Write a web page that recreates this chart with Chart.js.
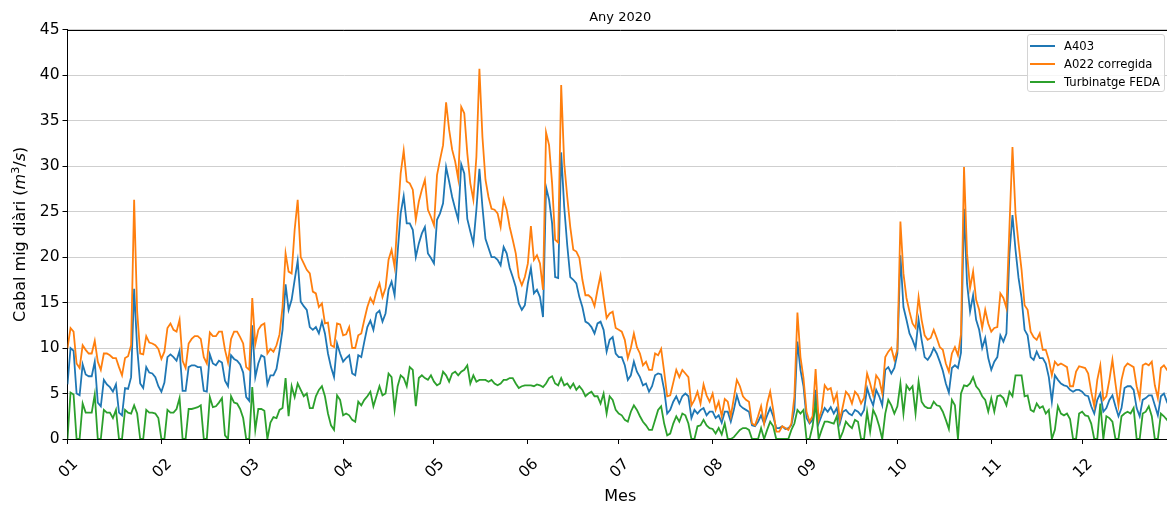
<!DOCTYPE html>
<html lang="ca">
<head>
<meta charset="utf-8">
<title>Any 2020</title>
<script src="https://cdn.jsdelivr.net/npm/chart.js@4.4.1/dist/chart.umd.min.js"></script>
<style>
  html, body { margin: 0; padding: 0; background: #fff; overflow: hidden; }
  #wrap { position: relative; width: 1180px; height: 506px; }
  #legend {
    position: absolute; left: 1027px; top: 34px; width: 138px; height: 58px;
    box-sizing: border-box; border: 1px solid #d4d4d4; border-radius: 3px;
    background: rgba(255,255,255,0.8);
    font-family: "DejaVu Sans", sans-serif; font-size: 11.6px; color: #000;
  }
  #legend .row { position: absolute; left: 0; height: 18px; display: flex; align-items: center; white-space: nowrap; }
  #legend .swatch { display: inline-block; width: 25px; height: 2px; margin-left: 2px; margin-right: 9px; }
</style>
</head>
<body>
<div id="wrap">
  <canvas id="chart" width="1180" height="506"></canvas>
  <div id="legend"></div>
</div>
<script>
// Daily mean flow, year 2020 (one value per day, 1 Jan .. 31 Dec)
const year = 2020;
const monthLabels = ['01','02','03','04','05','06','07','08','09','10','11','12'];
const seriesNames = ['A403', 'A022 corregida', 'Turbinatge FEDA'];
const seriesColors = ['#1f77b4', '#ff7f0e', '#2ca02c'];

const a403 = [
  // Jan
  6.0,10.0,9.7,5.0,4.8,8.2,7.1,6.9,6.9,8.5, 4.0,3.6,6.5,6.0,5.7,5.2,6.0,2.9,2.6,5.6, 5.5,6.8,16.5,10.0,6.1,5.6,7.9,7.3,7.2,6.8, 5.8,
  // Feb
  5.2,6.2,9.0,9.3,9.0,8.6,9.7,5.3,5.3,7.9, 8.1,8.1,7.9,7.9,5.3,5.2,9.3,8.3,8.1,8.6, 8.4,6.4,5.8,9.2,8.8,8.6,8.2,7.3,4.6,
  // Mar
  4.2,12.5,6.8,8.3,9.2,9.0,6.0,7.0,7.0,7.7, 9.7,12.0,17.0,14.2,15.3,17.5,19.6,15.1,14.6,14.2, 12.3,12.0,12.3,11.6,12.9,11.6,9.4,7.9,6.8,10.5, 9.4,
  // Apr
  8.5,8.9,9.2,7.2,7.0,9.2,9.0,10.7,12.3,13.0, 12.0,13.8,14.1,12.9,13.8,16.4,17.3,15.8,20.5,24.8, 26.7,23.7,23.7,23.0,20.0,21.5,22.6,23.3,20.4,19.9,
  // May
  19.3,24.1,24.8,25.9,29.9,28.3,26.6,25.3,24.1,30.2, 29.2,24.2,22.8,21.5,25.2,29.7,25.5,22.0,21.0,20.0, 20.0,19.7,19.1,21.1,20.4,18.8,17.8,16.7,14.9,14.2, 14.7,
  // Jun
  17.1,18.8,16.0,16.4,15.6,13.4,27.7,26.3,23.7,17.8, 17.7,31.5,25.5,21.3,17.8,17.5,17.1,15.6,14.5,12.9, 12.7,12.3,11.6,12.7,12.9,12.0,9.6,10.9,11.2,9.4,
  // Jul
  9.0,9.0,8.1,6.5,7.0,8.5,7.4,6.8,5.9,6.1, 5.2,5.8,7.0,7.2,7.1,5.4,2.8,3.2,4.1,4.7, 3.9,4.7,5.0,4.7,2.3,3.2,2.8,3.2,3.4,2.6, 3.0,
  // Aug
  3.0,2.3,2.6,1.8,3.0,3.0,1.9,3.2,4.8,3.7, 3.4,3.2,3.0,1.5,1.4,1.9,2.6,1.7,2.6,3.4, 2.5,1.2,1.2,1.4,1.1,1.2,1.5,3.2,10.7,7.6, 5.8,
  // Sep
  2.3,1.7,2.1,5.4,1.7,2.6,3.4,3.0,3.5,2.8, 3.4,1.7,3.0,3.2,2.8,2.6,3.2,3.0,2.6,3.2, 5.6,4.5,3.7,5.4,4.7,3.7,7.6,7.9,7.2,7.8,
  // Oct
  9.4,20.2,14.5,13.1,11.6,10.9,10.0,13.1,10.9,9.0, 8.7,9.2,10.0,9.4,8.5,7.5,6.1,5.1,7.8,8.1, 7.8,9.5,25.3,17.1,14.0,15.8,13.1,12.0,10.0,11.1, 8.9,
  // Nov
  7.6,8.5,9.0,11.4,10.7,11.6,20.4,24.6,20.8,17.7, 15.5,12.0,11.4,9.0,8.7,9.6,8.9,8.9,8.3,6.8, 4.1,7.0,6.5,6.1,5.9,5.8,5.4,5.2,5.4,5.4,
  // Dec
  5.2,4.8,4.7,3.6,2.8,4.3,5.0,3.0,3.4,4.3, 4.8,3.6,2.5,3.4,5.6,5.8,5.8,5.4,3.4,2.5, 4.3,4.5,4.8,4.8,3.7,2.6,4.7,5.0,4.1,4.6, 4.2
];

const a022 = [
  // Jan
  10.0,12.2,11.8,8.3,7.8,10.3,9.8,9.4,9.4,10.8, 8.5,7.6,9.4,9.4,9.2,8.9,8.9,7.9,7.0,8.9, 9.1,10.3,26.3,14.0,9.4,9.3,11.3,10.6,10.5,10.3, 9.9,
  // Feb
  8.8,9.6,12.2,12.7,12.0,11.8,13.1,8.6,7.8,10.5, 11.0,11.3,11.3,11.0,9.0,8.3,11.7,11.3,11.3,11.8, 11.8,9.8,8.4,11.0,11.8,11.8,11.2,10.5,7.9,
  // Mar
  7.6,15.5,10.4,12.0,12.5,12.7,9.4,9.9,9.6,10.3, 11.5,14.5,20.4,18.4,18.2,23.0,26.3,20.0,19.3,18.6, 18.2,16.2,16.0,14.5,14.9,12.7,12.8,10.3,10.1,12.7, 12.6,
  // Apr
  11.4,11.5,12.3,10.0,10.0,11.4,11.6,13.1,14.5,15.5, 14.9,16.2,17.1,15.6,16.6,19.7,20.8,18.9,24.4,29.2, 31.7,28.3,28.1,27.4,24.1,26.1,27.4,28.5,25.2,24.4,
  // May
  23.5,29.0,30.7,32.3,37.0,34.0,31.8,30.5,28.6,36.5, 35.8,31.4,28.1,26.3,31.0,40.7,33.2,28.5,26.6,25.3, 25.2,24.8,23.3,26.3,25.2,23.3,21.9,20.4,17.8,16.9, 17.8,
  // Jun
  19.3,23.4,19.7,20.2,19.3,16.4,33.7,32.3,28.1,21.9, 21.6,38.9,30.3,26.6,23.3,20.8,20.6,19.9,17.5,15.8, 15.8,15.5,14.6,16.4,18.0,15.6,13.3,13.8,14.0,12.2,
  // Jul
  12.0,11.8,10.9,8.9,10.0,11.6,10.1,9.4,8.1,8.5, 7.6,7.6,9.4,9.2,9.9,7.4,4.7,4.8,6.2,7.6, 6.8,7.6,7.2,6.8,3.7,4.3,5.2,3.9,6.0,4.8, 4.1,
  // Aug
  5.0,3.2,4.1,2.5,4.4,4.1,2.5,4.5,6.5,5.8, 4.7,4.3,4.1,1.7,1.5,2.5,3.6,1.7,3.9,5.2, 3.2,0.8,0.8,1.4,1.2,1.0,1.7,4.7,13.9,9.0, 6.7,
  // Sep
  3.0,1.9,2.5,7.7,2.1,3.2,5.9,5.4,5.6,4.1, 5.0,2.1,3.6,5.2,4.8,3.9,5.2,4.8,3.9,4.5, 7.2,6.1,4.8,7.0,6.5,5.0,9.0,9.6,10.0,8.7,
  // Oct
  9.8,23.9,18.2,15.5,14.0,12.7,12.2,15.6,13.1,11.4, 10.9,11.1,12.0,11.1,10.1,9.8,8.3,7.4,9.4,10.1, 9.2,11.5,29.9,20.4,16.6,18.4,15.3,14.2,12.2,14.2, 12.7,
  // Nov
  11.8,12.2,12.3,16.0,15.5,14.4,23.3,32.1,24.8,21.5, 18.6,14.7,14.2,11.8,11.2,10.9,11.6,9.8,9.8,8.7, 7.0,8.5,8.1,8.3,8.1,7.9,5.8,5.8,7.4,8.0,
  // Dec
  7.9,7.8,7.2,5.2,3.6,6.5,8.1,4.3,4.7,6.5, 8.7,6.1,3.7,6.5,7.9,8.3,8.1,7.9,5.8,4.5, 8.1,8.3,8.1,8.5,5.9,4.5,7.8,8.1,7.6,7.8, 7.5
];

const feda = [
  // Jan
  0,5.1,4.9,0,0,3.9,2.9,2.9,2.9,4.9, 0,0,3.2,2.9,2.9,2.3,3.2,0,0,3.2, 2.9,2.8,3.7,2.8,0,0,3.2,2.9,2.9,2.8, 2.3,
  // Feb
  0,0,3.2,2.9,2.9,3.3,4.5,0,0,3.3, 3.3,3.4,3.5,3.7,0,0,4.6,3.5,3.6,4.0, 4.5,0.4,0,4.7,4.0,3.9,3.3,2.3,0,
  // Mar
  0,5.7,1.0,3.3,3.3,3.1,0,1.8,2.4,2.3, 3.2,3.4,6.7,2.5,5.8,4.6,6.1,5.4,4.7,5.0, 3.4,3.4,4.7,5.4,5.8,4.7,2.8,1.5,1.0,4.8, 4.3,
  // Apr
  2.6,2.8,2.6,2.1,1.9,4.1,3.7,4.3,4.7,5.2, 3.6,4.7,5.8,4.8,5.0,7.2,6.8,3.2,5.8,7.0, 6.7,5.8,7.9,7.6,3.6,6.7,7.0,6.7,6.5,7.0,
  // May
  6.3,5.9,6.1,7.4,7.0,6.3,7.2,7.4,7.0,7.4, 7.6,8.1,6.1,7.0,6.3,6.5,6.5,6.5,6.3,6.5, 6.1,5.9,6.1,6.5,6.5,6.7,6.7,6.1,5.6,5.8, 5.9,
  // Jun
  5.9,5.9,5.8,6.0,5.9,5.7,6.1,6.7,6.9,6.1, 5.9,6.7,5.9,6.1,5.6,6.1,5.4,5.8,5.4,4.7, 5.0,5.2,4.7,4.7,3.9,5.0,2.8,4.7,4.3,3.2,
  // Jul
  2.8,2.6,2.1,1.9,3.0,3.7,3.2,2.5,1.9,1.5, 1.0,1.0,2.1,3.2,3.6,1.7,0.4,0.6,1.7,2.5, 1.9,2.8,2.6,1.7,0,0,1.4,1.5,2.1,1.5, 1.2,
  // Aug
  1.1,0.6,1.2,0.5,1.7,0,0,0.2,0.6,1.0, 1.2,1.2,1.0,0,0,0,1.2,0,1.0,1.9, 1.4,0,0,0,0,0,1.0,1.7,3.2,2.8, 3.2,
  // Sep
  0,0,1.4,3.9,0,1.0,1.9,1.9,1.8,1.7, 2.5,0,0.8,1.9,1.5,1.2,2.1,1.9,0,0, 3.0,0.8,3.2,2.5,1.4,0,2.8,4.3,3.7,2.8,
  // Oct
  3.6,6.1,2.8,5.9,5.4,5.8,2.8,6.3,4.1,3.6, 3.4,3.4,4.1,3.7,3.6,3.0,2.1,1.1,4.3,3.7, 0,5.0,5.9,5.8,6.1,6.8,5.8,5.4,4.7,4.3, 3.0,
  // Nov
  4.5,3.0,4.7,4.8,4.5,3.7,5.2,4.7,7.0,7.0, 7.0,4.7,4.8,3.2,3.0,3.9,3.4,3.6,2.8,3.2, 0,1.0,3.6,2.8,2.6,2.8,2.2,0,0,2.8,
  // Dec
  3.0,2.6,2.5,1.7,0,0,3.9,0,2.5,2.3, 1.9,0,0,2.5,2.8,3.0,2.8,3.4,0,0, 2.8,3.0,3.6,2.5,0,0,2.8,2.5,2.1,2.8, 2.5
];

// Y axis title, with the unit set as math (italic m and s, superscript 3)
const yTitleParts = [
  { text: 'Cabal mig diàri (', italic: false, scale: 1, rise: 0 },
  { text: 'm', italic: true, scale: 1, rise: 0 },
  { text: '3', italic: false, scale: 0.7, rise: 6.5 },
  { text: '/', italic: false, scale: 1, rise: 0 },
  { text: 's', italic: true, scale: 1, rise: 0 },
  { text: ')', italic: false, scale: 1, rise: 0 }
];

// Day-of-year index of the first day of each month, and of the last day of the year
const DAY_MS = 86400000;
const yearStart = Date.UTC(year, 0, 1);
const monthStarts = monthLabels.map((_, m) => Math.round((Date.UTC(year, m, 1) - yearStart) / DAY_MS));
const lastDay = Math.round((Date.UTC(year + 1, 0, 1) - yearStart) / DAY_MS) - 1;

const toPoints = vals => vals.map((v, i) => ({ x: i, y: v }));

const FONT = '"DejaVu Sans", sans-serif';
Chart.defaults.font.family = FONT;
Chart.defaults.color = '#000';

// Black frame line along the top of the plot area
const frameTop = {
  id: 'frameTop',
  afterDraw(chart) {
    const { ctx, chartArea: a } = chart;
    ctx.save();
    ctx.strokeStyle = '#000';
    ctx.lineWidth = 1;
    ctx.beginPath();
    const y = Math.round(a.top) + 0.5;
    ctx.moveTo(a.left, y);
    ctx.lineTo(a.right, y);
    ctx.lineTo(a.right, a.bottom);
    ctx.stroke();
    ctx.restore();
  }
};

// Rotated y axis title with mixed text styles
const yTitle = {
  id: 'yTitle',
  afterDraw(chart) {
    const { ctx, chartArea: a } = chart;
    const size = 16;
    const fontOf = p => (p.italic ? 'italic ' : '') + (size * p.scale).toFixed(1) + 'px ' + FONT;
    ctx.save();
    ctx.fillStyle = '#000';
    ctx.textBaseline = 'alphabetic';
    ctx.textAlign = 'left';
    let total = 0;
    const widths = yTitleParts.map(p => { ctx.font = fontOf(p); const w = ctx.measureText(p.text).width; total += w; return w; });
    ctx.translate(19.5, (a.top + a.bottom) / 2);
    ctx.rotate(-Math.PI / 2);
    let x = -total / 2;
    yTitleParts.forEach((p, i) => {
      ctx.font = fontOf(p);
      ctx.fillText(p.text, x, 5.8 - p.rise);
      x += widths[i];
    });
    ctx.restore();
  }
};

// Boxed legend built from the datasets
const boxLegend = {
  id: 'boxLegend',
  afterInit(chart) {
    const box = document.getElementById('legend');
    box.innerHTML = '';
    chart.data.datasets.forEach((ds, i) => {
      const row = document.createElement('div');
      row.className = 'row';
      row.style.top = (1.7 + i * 18.3) + 'px';
      const sw = document.createElement('span');
      sw.className = 'swatch';
      sw.style.background = ds.borderColor;
      const tx = document.createElement('span');
      tx.textContent = ds.label;
      row.append(sw, tx);
      box.append(row);
    });
  }
};

const seriesValues = [a403, a022, feda];
const drawOrder = [3, 2, 1];

new Chart(document.getElementById('chart'), {
  type: 'line',
  data: {
    datasets: seriesValues.map((vals, i) => ({
      label: seriesNames[i],
      data: toPoints(vals),
      borderColor: seriesColors[i],
      backgroundColor: seriesColors[i],
      borderWidth: 1.8,
      pointRadius: 0,
      tension: 0,
      fill: false,
      order: drawOrder[i]
    }))
  },
  options: {
    responsive: false,
    animation: false,
    devicePixelRatio: 1,
    events: [],
    layout: { padding: { left: 0, right: 7, top: 0, bottom: 0 } },
    plugins: {
      legend: { display: false },
      tooltip: { enabled: false },
      title: {
        display: true,
        text: 'Any ' + year,
        fullSize: false,
        color: '#000',
        font: { size: 13, weight: 'normal' },
        padding: { top: 10, bottom: 4 }
      }
    },
    scales: {
      x: {
        type: 'linear',
        min: 0,
        max: lastDay,
        afterBuildTicks: s => { s.ticks = monthStarts.map(v => ({ value: v })); },
        afterFit: s => { s.height = 67; },
        ticks: {
          callback: (v, i) => monthLabels[i],
          autoSkip: false,
          minRotation: 45,
          maxRotation: 45,
          padding: 11,
          labelOffset: 8,
          color: '#000',
          font: { size: 15.5 }
        },
        grid: { drawOnChartArea: false, drawTicks: true, tickLength: 5, tickColor: '#000', color: '#000' },
        border: { color: '#000', width: 1 },
        title: { display: true, text: 'Mes', color: '#000', font: { size: 16 }, padding: { top: 0, bottom: 0 } }
      },
      y: {
        min: 0,
        max: 45,
        afterFit: s => { s.width = 67.5; },
        ticks: { stepSize: 5, padding: 3, color: '#000', font: { size: 15.5 } },
        grid: { color: '#cfcfcf', lineWidth: 1, tickLength: 5, tickColor: '#000' },
        border: { color: '#000', width: 1 },
        title: { display: false }
      }
    }
  },
  plugins: [frameTop, yTitle, boxLegend]
});
</script>
</body>
</html>
